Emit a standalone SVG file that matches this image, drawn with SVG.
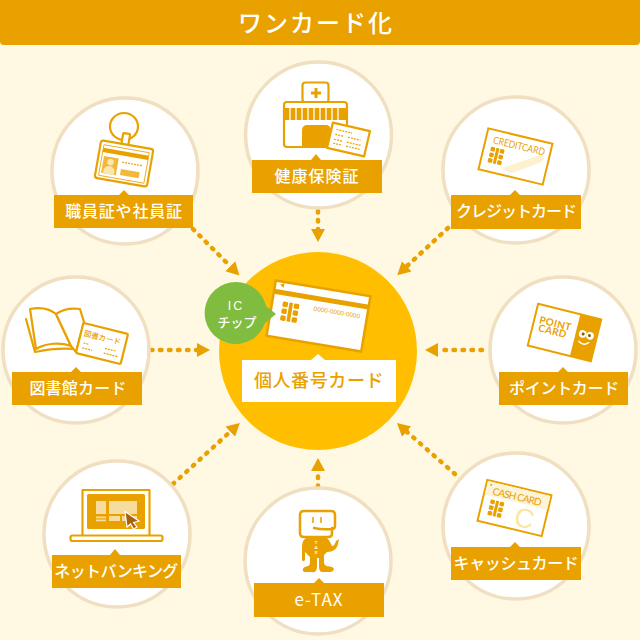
<svg xmlns="http://www.w3.org/2000/svg" width="640" height="640" viewBox="0 0 640 640">
<style>
text{font-family:"Noto Sans CJK JP","Noto Sans",sans-serif}
.ring{fill:#fff;stroke:#f0dfc0;stroke-width:3.500}
.lab{fill:#e9a100}
.lt{fill:#fff;font-size:16px;font-weight:500;text-anchor:middle}
.o{fill:#e9a100}
.ol{fill:#fff;stroke:#e9a100;stroke-width:2.200;stroke-linejoin:round}
.ln{fill:none;stroke:#e9a100;stroke-width:2.200;stroke-linecap:round;stroke-linejoin:round}
.g{stroke:#e9a100;stroke-width:1.200;stroke-dasharray:2 1;fill:none}
.ct{font-family:"Lato","Liberation Sans",sans-serif;fill:#e9a100;text-anchor:middle}
.c{fill:none;stroke:#e9a100;stroke-width:4.500;stroke-linecap:round;stroke-dasharray:1.500 7.500}
</style>
<defs>
<marker id="ah" markerUnits="userSpaceOnUse" markerWidth="14" markerHeight="16" refX="1" refY="8" orient="auto"><path d="M0 1L13 8L0 15Z" fill="#e9a100"/></marker>
<g id="chip"><g fill="#e9a100"><rect x="-7" y="-8" width="4.500" height="4.400" rx="1.200"/><rect x="-7" y="-2.200" width="4.500" height="4.400" rx="1.200"/><rect x="-7" y="3.600" width="4.500" height="4.400" rx="1.200"/><rect x="2.500" y="-8" width="4.500" height="4.400" rx="1.200"/><rect x="2.500" y="-2.200" width="4.500" height="4.400" rx="1.200"/><rect x="2.500" y="3.600" width="4.500" height="4.400" rx="1.200"/><path d="M-1.500-8H1.500V8H-1.500Z"/></g></g>
</defs>
<rect width="640" height="640" fill="#fff8e3"/>
<g id="header"><path d="M0 0H640V41a4 4 0 0 1-4 4H4a4 4 0 0 1-4-4Z" fill="#e9a100"/><text x="316" y="31.500" fill="#fff" font-size="24" font-weight="500" text-anchor="middle" letter-spacing="2">ワンカード化</text></g>

<g id="connectors">
<path class="c" marker-end="url(#ah)" d="M193 229L231 267"/>
<path class="c" marker-end="url(#ah)" d="M318 211V230"/>
<path class="c" marker-end="url(#ah)" d="M448 228L406 267"/>
<path class="c" marker-end="url(#ah)" d="M151 350H198"/>
<path class="c" marker-end="url(#ah)" d="M482 350H437"/>
<path class="c" marker-end="url(#ah)" d="M173 484L231 431"/>
<path class="c" marker-end="url(#ah)" d="M318 487V470"/>
<path class="c" marker-end="url(#ah)" d="M455 474L406 431"/>
</g>

<g id="node-center">
<circle cx="318" cy="351" r="99" fill="#ffbf00"/>
<g transform="translate(318.500 316) rotate(9.500)">
<rect x="-48" y="-28" width="96" height="56" fill="#fff" stroke="#e9a100" stroke-width="2.500"/>
<rect x="-48" y="-19.500" width="96" height="5" fill="#e9a100"/>
<path d="M-43-24.500L-39-27V-22Z" fill="#e9a100"/>
<use href="#chip" transform="translate(-29 1) scale(1.200)"/>
<text class="ct" x="17.500" y="-4.500" font-size="6.400" style="font-family:'Liberation Sans',sans-serif">0000-0000-0000</text>
</g>
<path d="M242 360H311L318 354L325 360H396V402H242Z" fill="#fff"/>
<text x="319" y="387" fill="#e9a100" font-size="18" font-weight="500" text-anchor="middle" letter-spacing=".6">個人番号カード</text>
<path d="M236 282a31 31 0 0 1 30 24L276 314L265 323A31 31 0 1 1 236 282Z" fill="#7fbc3f"/>
<text x="236" y="310" fill="#fff" font-size="12.500" text-anchor="middle" letter-spacing="2" style="font-family:'Liberation Sans',sans-serif">IC</text>
<text x="237" y="327" fill="#fff" font-size="13" font-weight="500" text-anchor="middle">チップ</text>
</g>

<g id="node-staff">
<circle class="ring" cx="125" cy="171" r="73"/>
<ellipse cx="124" cy="126.500" rx="14" ry="13.500" fill="none" stroke="#e9a100" stroke-width="2.200"/>
<g transform="translate(124 163.500) rotate(10)">
<rect x="-6" y="-30" width="7" height="13" rx="1" class="ol"/>
<rect x="-26.500" y="-19" width="53" height="38" rx="2.500" class="ol"/>
<rect x="-23" y="-15" width="46" height="31" fill="none" stroke="#e9a100" stroke-width=".8"/>
<rect x="-23" y="-12" width="46" height="4.500" class="o"/>
<rect x="-21" y="-4" width="15" height="17" fill="#f0b93a"/>
<circle cx="-13.500" cy="1" r="3.300" fill="#fbe5b0"/>
<path d="M-19 13v-3a5.500 5 0 0 1 11 0v3Z" fill="#fbe5b0"/>
<path class="g" d="M-2-1H19" stroke-width="1"/>
<rect x="-2" y="6" width="19" height="6" fill="#f0b93a"/>
</g>
<path class="lab" d="M54 195H119L124 190L129 195H193V228H54Z"/>
<text class="lt" x="124" y="217" letter-spacing=".8">職員証や社員証</text>
</g>

<g id="node-health">
<circle class="ring" cx="318.500" cy="135" r="73"/>
<rect x="302.500" y="82.500" width="26" height="20" rx="3" class="ol"/>
<path d="M316 88V98M311 93H321" stroke="#e9a100" stroke-width="3"/>
<rect x="284" y="102" width="63" height="45" rx="3" class="ol"/>
<rect x="284" y="108" width="63" height="12" class="o"/>
<path d="M290 108V120M296 108V120M302 108V120M308 108V120M314 108V120M320 108V120M326 108V120M332 108V120M338 108V120" stroke="#fff" stroke-width="1.300"/>
<path d="M302 147V130a5 5 0 0 1 5-5H326a5 5 0 0 1 5 5V147Z" class="o"/>
<g transform="translate(348.500 139.500) rotate(13)">
<rect x="-19" y="-13" width="38" height="26" class="ol"/>
<path class="g" d="M-14-7H2M-14-2H-6M-1-2H12M-14 3H-6M-1 3H13M-14 7H-6M-1 7H13"/>
</g>
<path class="lab" d="M252 160H311L316 154L321 160H382V193H252Z"/>
<text class="lt" x="317" y="182" letter-spacing="1">健康保険証</text>
</g>

<g id="node-credit">
<circle class="ring" cx="516" cy="170" r="73"/>
<g transform="translate(515.500 156.500) rotate(13.500)">
<rect x="-33" y="-21" width="66" height="42" fill="#fff" stroke="#e9a100" stroke-width="2"/>
<path d="M-10.700 14.700L23.500-7.200L28-7L27-1L.2 17.200Z" fill="#fdf1cf"/>
<text class="ct" x="1" y="-7.500" font-size="10" textLength="53" lengthAdjust="spacingAndGlyphs">CREDITCARD</text>
<use href="#chip" x="-19" y="4"/>
</g>
<path class="lab" d="M451 195H510L515 190L520 195H581V229H451Z"/>
<text class="lt" x="516" y="217" letter-spacing="-1">クレジットカード</text>
</g>

<g id="node-library">
<circle class="ring" cx="76" cy="350" r="73"/>
<path class="ln" d="M26 319L35 352C48 349 62 348 78 349" stroke-width="2.800"/>
<path class="ol" d="M30 309C41 307 50 309 56 314L71 346C60 342 46 343 36 349Z"/>
<path class="ol" d="M56 314C63 309 72 308 80 309L84 322L76 352L71 346Z"/>
<g transform="translate(102 343.500) rotate(14)">
<rect x="-23" y="-15.500" width="46" height="31" rx="1.500" class="ol"/>
<text x="-1" y="-3" fill="#e9a100" font-size="7.500" font-weight="500" text-anchor="middle">図書カード</text>
<path class="g" d="M-18 4H-13M4 4H15M-18 9H-8M4 9H18" stroke-width="1.400"/>
</g>
<path class="lab" d="M12 372H71L76 367L81 372H142V405H12Z"/>
<text class="lt" x="78" y="394" letter-spacing=".2">図書館カード</text>
</g>

<g id="node-point">
<circle class="ring" cx="563" cy="350" r="73"/>
<g transform="translate(564.500 332.500) rotate(14)">
<rect x="-32.500" y="-21.500" width="65" height="43" fill="#fff" stroke="#e9a100" stroke-width="2"/>
<rect x="11" y="-21.500" width="21.500" height="43" class="o"/>
<text class="ct" x="-11" y="-3" font-size="10" font-weight="700" letter-spacing=".3">POINT</text>
<text class="ct" x="-12" y="5" font-size="10" font-weight="700" letter-spacing=".3">CARD</text>
<circle cx="18" cy="-3" r="3.800" fill="#fff"/><circle cx="25.500" cy="-3" r="3.800" fill="#fff"/>
<circle cx="18.500" cy="-3" r="1.500" fill="#8a5a00"/><circle cx="25" cy="-3" r="1.500" fill="#8a5a00"/>
<path d="M16 5Q21 9 26 4" fill="none" stroke="#fff" stroke-width="1.500" stroke-linecap="round"/>
</g>
<path class="lab" d="M499 372H558L563 367L568 372H628V405H499Z"/>
<text class="lt" x="564" y="394" letter-spacing="-.3">ポイントカード</text>
</g>

<g id="node-netbank">
<circle class="ring" cx="117" cy="534" r="73"/>
<rect x="82.500" y="490" width="67" height="46" class="ol"/>
<rect x="87" y="494" width="58" height="35" rx="1.500" class="o"/>
<g fill="#f7dc9f">
<rect x="96" y="501" width="10" height="13"/><rect x="96" y="516.500" width="10" height="1.800"/><rect x="96" y="519.500" width="10" height="1.800"/>
<rect x="109" y="501" width="28" height="13"/><rect x="109" y="516" width="11" height="5"/><rect x="122" y="516" width="15" height="5"/>
</g>
<path d="M125 511.500L139 521L133.500 522.500L137 527L133.500 529L130.500 524L127 527Z" fill="#a8610e" stroke="#fff" stroke-width="1.200"/>
<rect x="70.500" y="535.500" width="92" height="5.500" rx="2" class="ol"/>
<path class="lab" d="M52 555H110L115 549L120 555H181V588H52Z"/>
<text class="lt" x="116" y="577" letter-spacing="-.6">ネットバンキング</text>
</g>

<g id="node-etax">
<circle class="ring" cx="318" cy="561" r="73"/>
<path class="o" d="M306 538H327C330 541 331 544 332 546C334 546 335 544 336 541L339 539L338 544C337 549 333 552 327 552L324 555V563C325 567 329 566 332 567C335 568 334 572 330 572H323C320 572 319 570 319 566V558H317V566C317 571 315 573 312 572H305C302 572 302 568 305 567C308 566 310 566 310 562V557L305 552V559C305 562 302 562 302 559V548C302 543 303 540 306 538Z"/>
<path d="M332 528L332 534Q332 537 328 537H304Q300 537 300 533V515Q300 511 304 511H331Q335 511 335 515V526Q335 529 332 529Q322 530 314 528" fill="#fff" stroke="#e9a100" stroke-width="2.500" stroke-linejoin="round" stroke-linecap="round"/>
<path d="M313 517V523M321 517V523" stroke="#e9a100" stroke-width="1.500"/>
<text class="ct" x="316" y="544" font-size="4.500" font-weight="700" style="fill:#fff">T</text>
<text class="ct" x="316" y="549" font-size="4.500" font-weight="700" style="fill:#fff">A</text>
<text class="ct" x="316" y="554" font-size="4.500" font-weight="700" style="fill:#fff">X</text>
<path class="lab" d="M254 583H314L319 578L324 583H384V617H254Z"/>
<text class="lt" x="319" y="606" letter-spacing="1" style="font-size:17px;font-weight:400">e-TAX</text>
</g>

<g id="node-cash">
<circle class="ring" cx="516" cy="526" r="73"/>
<g transform="translate(514.500 508) rotate(13.500)">
<rect x="-33" y="-21" width="66" height="42" fill="#fff" stroke="#e9a100" stroke-width="2"/>
<rect x="-32" y="-20" width="64" height="14" fill="#fdf3d6"/>
<circle cx="-28" cy="-17" r="1" class="o"/>
<text class="ct" x="0" y="-8" font-size="10" textLength="50" lengthAdjust="spacing">CASH CARD</text>
<use href="#chip" x="-18" y="5"/>
<text x="12" y="17" fill="#f9e7a4" font-size="27" text-anchor="middle" style="font-family:'Liberation Sans',sans-serif">C</text>
</g>
<path class="lab" d="M451 547H510L515 542L520 547H581V580H451Z"/>
<text class="lt" x="516" y="569" letter-spacing="-.4">キャッシュカード</text>
</g>
</svg>
